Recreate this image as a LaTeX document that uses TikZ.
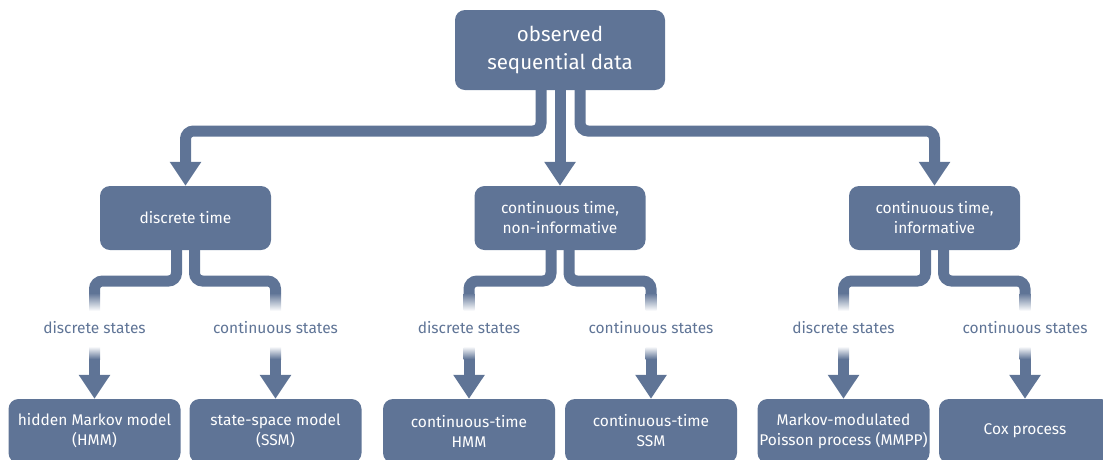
\documentclass[tikz,border=0pt]{standalone}
\usepackage{fontspec}
\setmainfont{Fira Sans}
\usetikzlibrary{arrows.meta,calc}
\definecolor{mc}{RGB}{95,116,150}
\begin{document}
\begin{tikzpicture}[x=1pt,y=-1pt,
  box/.style={fill=mc, rounded corners=10pt, text=white, align=center, inner sep=0pt,
    font=\fontsize{15.5}{20}\selectfont},
  midbox/.style={box, minimum width=171pt, minimum height=64pt},
  botbox/.style={box, minimum width=172pt, minimum height=64pt},
  lab/.style={text=mc, font=\fontsize{15.5}{19}\selectfont, inner sep=1pt},
  pipe/.style={draw=mc, line width=11pt, rounded corners=8pt, line cap=butt},
  tip/.style={-{Triangle[width=30pt,length=24pt]}},
  fadeout/.style={top color=mc, bottom color=white!95!mc},
  fadein/.style={top color=white!95!mc, bottom color=mc}]
\useasboundingbox (0,0) rectangle (1103,459);
\clip (0,0) rectangle (1103,459);
% nodes
\node[box, minimum width=210pt, minimum height=80pt, font=\fontsize{20.5}{28}\selectfont] (top) at (560,50) {observed\\sequential data};
\node[midbox] (m1) at (185.5,218) {discrete time};
\node[midbox] (m2) at (560,218) {continuous time,\\non-informative};
\node[midbox] (m3) at (934.5,218) {continuous time,\\informative};
\node[lab] (l1) at (94.5,328) {discrete states};
\node[lab] (l2) at (275.5,328) {continuous states};
\node[lab] (l3) at (469,328) {discrete states};
\node[lab] (l4) at (651,328) {continuous states};
\node[lab] (l5) at (843.5,328) {discrete states};
\node[lab] (l6) at (1025,328) {continuous states};
\node[botbox] (b1) at (94.5,431) {hidden Markov model\\(HMM)};
\node[botbox] (b2) at (275.5,431) {state-space model\\(SSM)};
\node[botbox] (b3) at (469,431) {continuous-time\\HMM};
\node[botbox] (b4) at (651,431) {continuous-time\\SSM};
\node[botbox] (b5) at (843.5,431) {Markov-modulated\\Poisson process (MMPP)};
\node[botbox] (b6) at (1025,431) {Cox process};
% top level pipes
\coordinate (ybar) at (0,131);
\draw[pipe,tip] ([xshift=-19pt]top.south) |- (m1.north |- ybar) -- (m1.north);
\draw[pipe,tip] (top.south) -- (m2.north);
\draw[pipe,tip] ([xshift=20pt]top.south) |- (m3.north |- ybar) -- (m3.north);
% second level pipes
\foreach \m/\a/\b in {m1/l1/l2, m2/l3/l4, m3/l5/l6}{
  \draw[pipe] ([xshift=-9pt]\m.south) |- ($(\a)+(0,-47)$) -- ($(\a)+(0,-35)$);
  \draw[pipe] ([xshift=9pt]\m.south) |- ($(\b)+(0,-47)$) -- ($(\b)+(0,-35)$);
}
\foreach \l/\b in {l1/b1, l2/b2, l3/b3, l4/b4, l5/b5, l6/b6}{
  \shade[fadeout] ($(\l)+(-5.5,-35)$) rectangle ($(\l)+(5.5,-18)$);
  \shade[fadein] ($(\l)+(-5.5,19)$) rectangle ($(\l)+(5.5,31)$);
  \draw[pipe,tip] ($(\l)+(0,30.5)$) -- (\b.north);
}
\end{tikzpicture}
\end{document}
